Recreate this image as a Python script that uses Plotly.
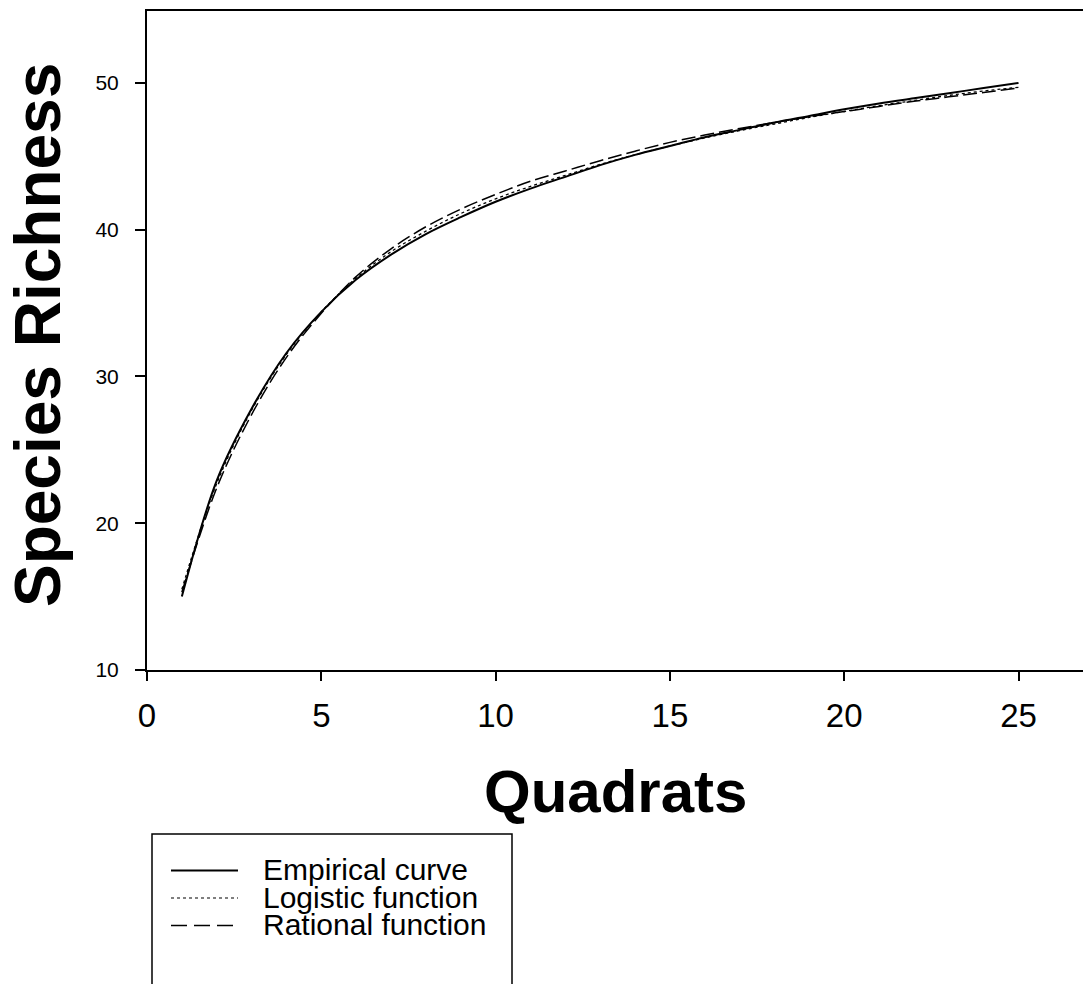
import plotly.graph_objects as go

quadrats = list(range(1, 26))
empirical = [15.0, 22.9, 27.8, 31.6, 34.4, 36.6, 38.3, 39.7, 40.85, 41.9, 42.8, 43.6, 44.4,
             45.1, 45.7, 46.3, 46.8, 47.3, 47.75, 48.2, 48.6, 48.95, 49.3, 49.65, 50.0]
logistic = [15.5, 22.7, 27.7, 31.5, 34.4, 36.7, 38.5, 39.9, 41.1, 42.1, 42.95, 43.7, 44.45,
            45.1, 45.7, 46.25, 46.75, 47.2, 47.65, 48.05, 48.45, 48.8, 49.15, 49.45, 49.7]
rational = [15.3, 22.4, 27.4, 31.3, 34.3, 36.8, 38.7, 40.2, 41.4, 42.4, 43.3, 44.0, 44.7,
            45.35, 45.95, 46.45, 46.9, 47.3, 47.7, 48.05, 48.4, 48.75, 49.05, 49.35, 49.65]
series_names = ["Empirical curve", "Logistic function", "Rational function"]
x_ticks = [0, 5, 10, 15, 20, 25]
y_ticks = [10, 20, 30, 40, 50]

W, H = 1083, 984
ML, MR, MT, MB = 147, 0, 11, 314
PW, PH = W - ML - MR, H - MT - MB
FONT = "Liberation Sans, Arial, sans-serif"


def px(x):
    return (x - ML) / PW


def py(y):
    return (H - MB - y) / PH


fig = go.Figure()
styles = [dict(width=2, dash="solid"), dict(width=1.3, dash="dot"), dict(width=1.5, dash="14px,5px")]
for name, ys, st in zip(series_names, [empirical, logistic, rational], styles):
    fig.add_trace(go.Scatter(x=quadrats, y=ys, mode="lines", name=name,
                             line=dict(color="black", shape="spline", **st),
                             showlegend=False))

# custom legend (tight row spacing as in the reference)
shapes = [dict(type="rect", xref="paper", yref="paper", x0=px(152), x1=px(512),
               y0=py(834), y1=py(1010), line=dict(color="black", width=1.5))]
legend_rows = [870.5, 898, 925.5]
legend_dash = ["solid", "dot", "16px,7px"]
legend_w = [2, 1.2, 1.5]
annotations = []
for name, yy, d, w in zip(series_names, legend_rows, legend_dash, legend_w):
    shapes.append(dict(type="line", xref="paper", yref="paper", x0=px(171), x1=px(238),
                       y0=py(yy), y1=py(yy), line=dict(color="black", width=w, dash=d)))
    annotations.append(dict(text=name, xref="paper", yref="paper", x=px(261), y=py(yy - 1),
                            xanchor="left", yanchor="middle", showarrow=False,
                            font=dict(family=FONT, size=30, color="black")))

annotations.append(dict(text="<b>Species Richness</b>", xref="paper", yref="paper",
                        x=px(38), y=py(335), xanchor="center", yanchor="middle",
                        textangle=-90, showarrow=False,
                        font=dict(family=FONT, size=64, color="black")))
annotations.append(dict(text="<b>Quadrats</b>", xref="paper", yref="paper",
                        x=px(615), y=py(791), xanchor="center", yanchor="middle",
                        showarrow=False, font=dict(family=FONT, size=60, color="black")))

fig.update_layout(
    width=W, height=H,
    margin=dict(l=ML, r=MR, t=MT, b=MB),
    paper_bgcolor="white", plot_bgcolor="white",
    shapes=shapes, annotations=annotations,
    showlegend=False,
    xaxis=dict(range=[0, 26.85], tickvals=x_ticks, ticktext=[str(v) for v in x_ticks],
               showgrid=False, zeroline=False, showline=True, linecolor="black", linewidth=2,
               mirror=True, ticks="outside", ticklen=9, tickwidth=1.5, tickcolor="black",
               tickfont=dict(family=FONT, size=33, color="black"), ticklabelstandoff=6),
    yaxis=dict(range=[10, 54.9], tickvals=y_ticks, ticktext=[str(v) for v in y_ticks],
               showgrid=False, zeroline=False, showline=True, linecolor="black", linewidth=2,
               mirror=False, ticks="outside", ticklen=10, tickwidth=1.5, tickcolor="black",
               tickfont=dict(family=FONT, size=21, color="black"), ticklabelstandoff=12),
)

fig.write_html("out.html")
